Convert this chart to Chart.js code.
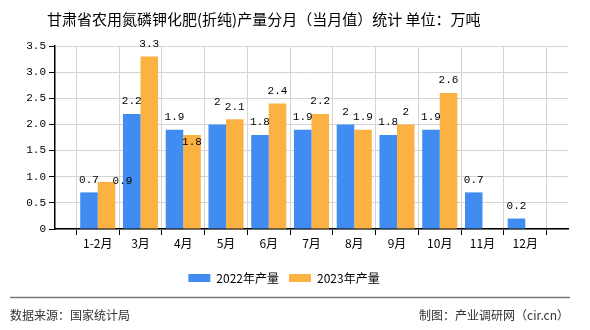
<!DOCTYPE html>
<html>
<head>
<meta charset="utf-8">
<script src="https://cdn.jsdelivr.net/npm/chart.js@4/dist/chart.umd.min.js"></script>
<style>
  html, body { margin: 0; padding: 0; background: #fff; }
  #wrap { width: 590px; height: 330px; position: relative; }
</style>
</head>
<body>
<div id="wrap"><canvas id="c" width="590" height="330"></canvas></div>
<script>
// Monthly output, 10k tonnes
const categories = ['1-2月', '3月', '4月', '5月', '6月', '7月', '8月', '9月', '10月', '11月', '12月'];
const output2022 = [0.7, 2.2, 1.9, 2, 1.8, 1.9, 2, 1.8, 1.9, 0.7, 0.2];
const output2023 = [0.9, 3.3, 1.8, 2.1, 2.4, 2.2, 1.9, 2, 2.6, null, null];
const seriesNames = ['2022年产量', '2023年产量'];
const yTicks = [0, 0.5, 1, 1.5, 2, 2.5, 3, 3.5];

const titleText = '甘肃省农用氮磷钾化肥(折纯)产量分月（当月值）统计 单位：万吨';
const sourceText = '数据来源：国家统计局';
const creditText = '制图：产业调研网（cir.cn）';

// the axis leaves one empty slot at each end, so pad the labels and series
const pad = arr => [null, ...arr, null];
const labels = ['', ...categories, ''];

const BLUE = '#418cf0';
const ORANGE = '#fbb242';
const NUM_FONT = '11px "Liberation Mono", "DejaVu Sans Mono", monospace';
const CJK = '"Noto Sans CJK SC", "Noto Sans", sans-serif';

// small shifts that keep neighbouring value labels apart: [dataset, index] -> [dx, dy]
const labelShift = { '1:0': [16, 12], '1:2': [0, 20], '0:3': [0, -10] };

const valueLabels = {
  id: 'valueLabels',
  afterDatasetsDraw(chart) {
    const ctx = chart.ctx;
    ctx.save();
    ctx.font = NUM_FONT;
    ctx.fillStyle = '#000';
    ctx.textAlign = 'center';
    ctx.textBaseline = 'middle';
    chart.data.datasets.forEach((ds, di) => {
      const meta = chart.getDatasetMeta(di);
      meta.data.forEach((bar, i) => {
        const v = ds.data[i];
        if (v === null || v === undefined) return;
        const s = labelShift[di + ':' + (i - 1)] || [0, 0];
        ctx.fillText(String(v), bar.x + s[0], bar.y - 12.5 + s[1]);
      });
    });
    ctx.restore();
  }
};

const frameText = {
  id: 'frameText',
  afterDraw(chart) {
    const ctx = chart.ctx;
    ctx.save();
    ctx.fillStyle = '#000';
    ctx.textBaseline = 'middle';
    ctx.textAlign = 'left';
    ctx.font = '15px ' + CJK;
    ctx.fillText(titleText, 47, 19);

    ctx.strokeStyle = '#7a7a7a';
    ctx.lineWidth = 1.5;
    ctx.beginPath();
    ctx.moveTo(10, 297.5);
    ctx.lineTo(570, 297.5);
    ctx.stroke();

    ctx.fillStyle = '#333';
    ctx.font = '12px ' + CJK;
    ctx.fillText(sourceText, 10, 315);
    ctx.textAlign = 'right';
    ctx.fillText(creditText, 569, 315);
    ctx.restore();
  }
};

new Chart(document.getElementById('c'), {
  type: 'bar',
  data: {
    labels: labels,
    datasets: [
      { label: seriesNames[0], data: pad(output2022), backgroundColor: BLUE },
      { label: seriesNames[1], data: pad(output2023), backgroundColor: ORANGE }
    ]
  },
  options: {
    responsive: false,
    animation: false,
    events: [],
    layout: { padding: { top: 46, right: 22, bottom: 36, left: 0 } },
    datasets: {
      bar: { categoryPercentage: 0.82, barPercentage: 1.0 }
    },
    scales: {
      x: {
        offset: false,
        afterFit(s) { s.height = 33; },
        grid: { color: '#d4d4d4', tickColor: '#000', tickLength: 6, drawOnChartArea: true },
        border: { color: '#000', width: 1.5 },
        ticks: {
          font: { family: CJK, size: 12 },
          color: '#000',
          padding: 1,
          autoSkip: false,
          maxRotation: 0
        }
      },
      y: {
        min: 0,
        max: 3.5,
        afterFit(s) { s.width = 55; },
        afterBuildTicks(s) { s.ticks = yTicks.map(v => ({ value: v })); },
        grid: { color: '#d4d4d4', tickColor: '#000', tickLength: 6 },
        border: { color: '#000', width: 1.5 },
        ticks: {
          font: { family: '"Liberation Mono", "DejaVu Sans Mono", monospace', size: 11 },
          color: '#000',
          padding: 3
        }
      }
    },
    plugins: {
      tooltip: { enabled: false },
      legend: {
        display: true,
        position: 'bottom',
        labels: {
          boxWidth: 22,
          boxHeight: 8,
          padding: 10,
          color: '#000',
          font: { family: CJK, size: 12 }
        }
      }
    }
  },
  plugins: [valueLabels, frameText]
});
</script>
</body>
</html>
